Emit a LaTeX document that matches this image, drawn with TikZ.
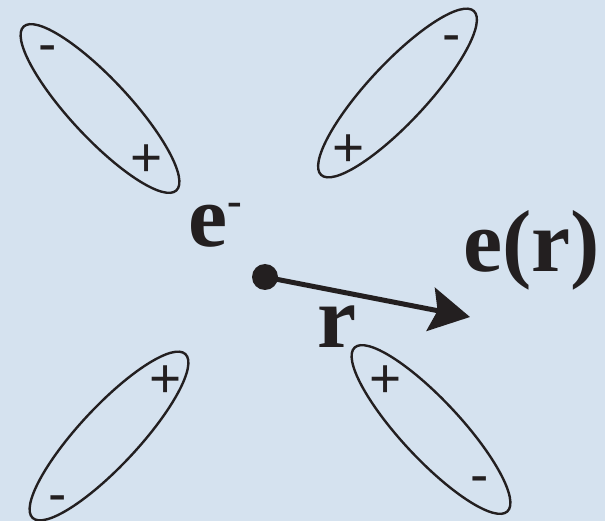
\documentclass[tikz,border=0pt]{standalone}
\usepackage{fontspec}
\setmainfont{Liberation Serif}
\newfontfamily\signfont{Liberation Sans}
\usetikzlibrary{shapes.geometric,arrows.meta}
\definecolor{bgblue}{RGB}{213,226,239}
\definecolor{ink}{RGB}{35,31,32}
\begin{document}
\begin{tikzpicture}[x=1pt,y=-1pt,
  dipole/.style={draw=ink, line width=2.4pt, ellipse, inner sep=0pt,
    minimum width=224pt, minimum height=59pt},
  sign/.style={text=ink, inner sep=0pt, anchor=base,
    font=\signfont\fontsize{55}{55}\selectfont},
  big/.style={text=ink, inner sep=0pt, anchor=base west,
    font=\bfseries\fontsize{88}{88}\selectfont},
  vec/.style={draw=ink, line width=5pt, -{Stealth[length=40pt,width=44pt,inset=7pt]}}]
\fill[bgblue] (0,0) rectangle (605,521);
\useasboundingbox (0,0) rectangle (605,521);
% dipoles
\node[dipole, rotate=-47] (d1) at (100,108.5) {};
\node[dipole, rotate=47] (d2) at (397.5,93) {};
\node[dipole, rotate=47] (d3) at (109,436) {};
\node[dipole, rotate=-47] (d4) at (431,429.5) {};
% signs
\node[sign] (m1) at (48,62.5) {-};
\node[sign] (p1) at (147,177) {+};
\node[sign] (m2) at (451.5,52.5) {-};
\node[sign] (p2) at (349,167) {+};
\node[sign] (p3) at (166,397) {+};
\node[sign] (m3) at (57.5,512.5) {-};
\node[sign] (p4) at (386,397) {+};
\node[sign] (m4) at (479.5,493.5) {-};
% electron and field
\node[big] (e) at (188,247) {e\raisebox{31pt}{\fontsize{44}{44}\selectfont -}};
\node[fill=ink, circle, inner sep=0pt, minimum size=26pt] (dot) at (265,277) {};
\coordinate (tip) at (470,317);
\draw[vec] (dot.center) -- (tip);
\node[big] (r) at (317,347) {r};
\node[big] (er) at (463,272) {e(r)};
\end{tikzpicture}
\end{document}
